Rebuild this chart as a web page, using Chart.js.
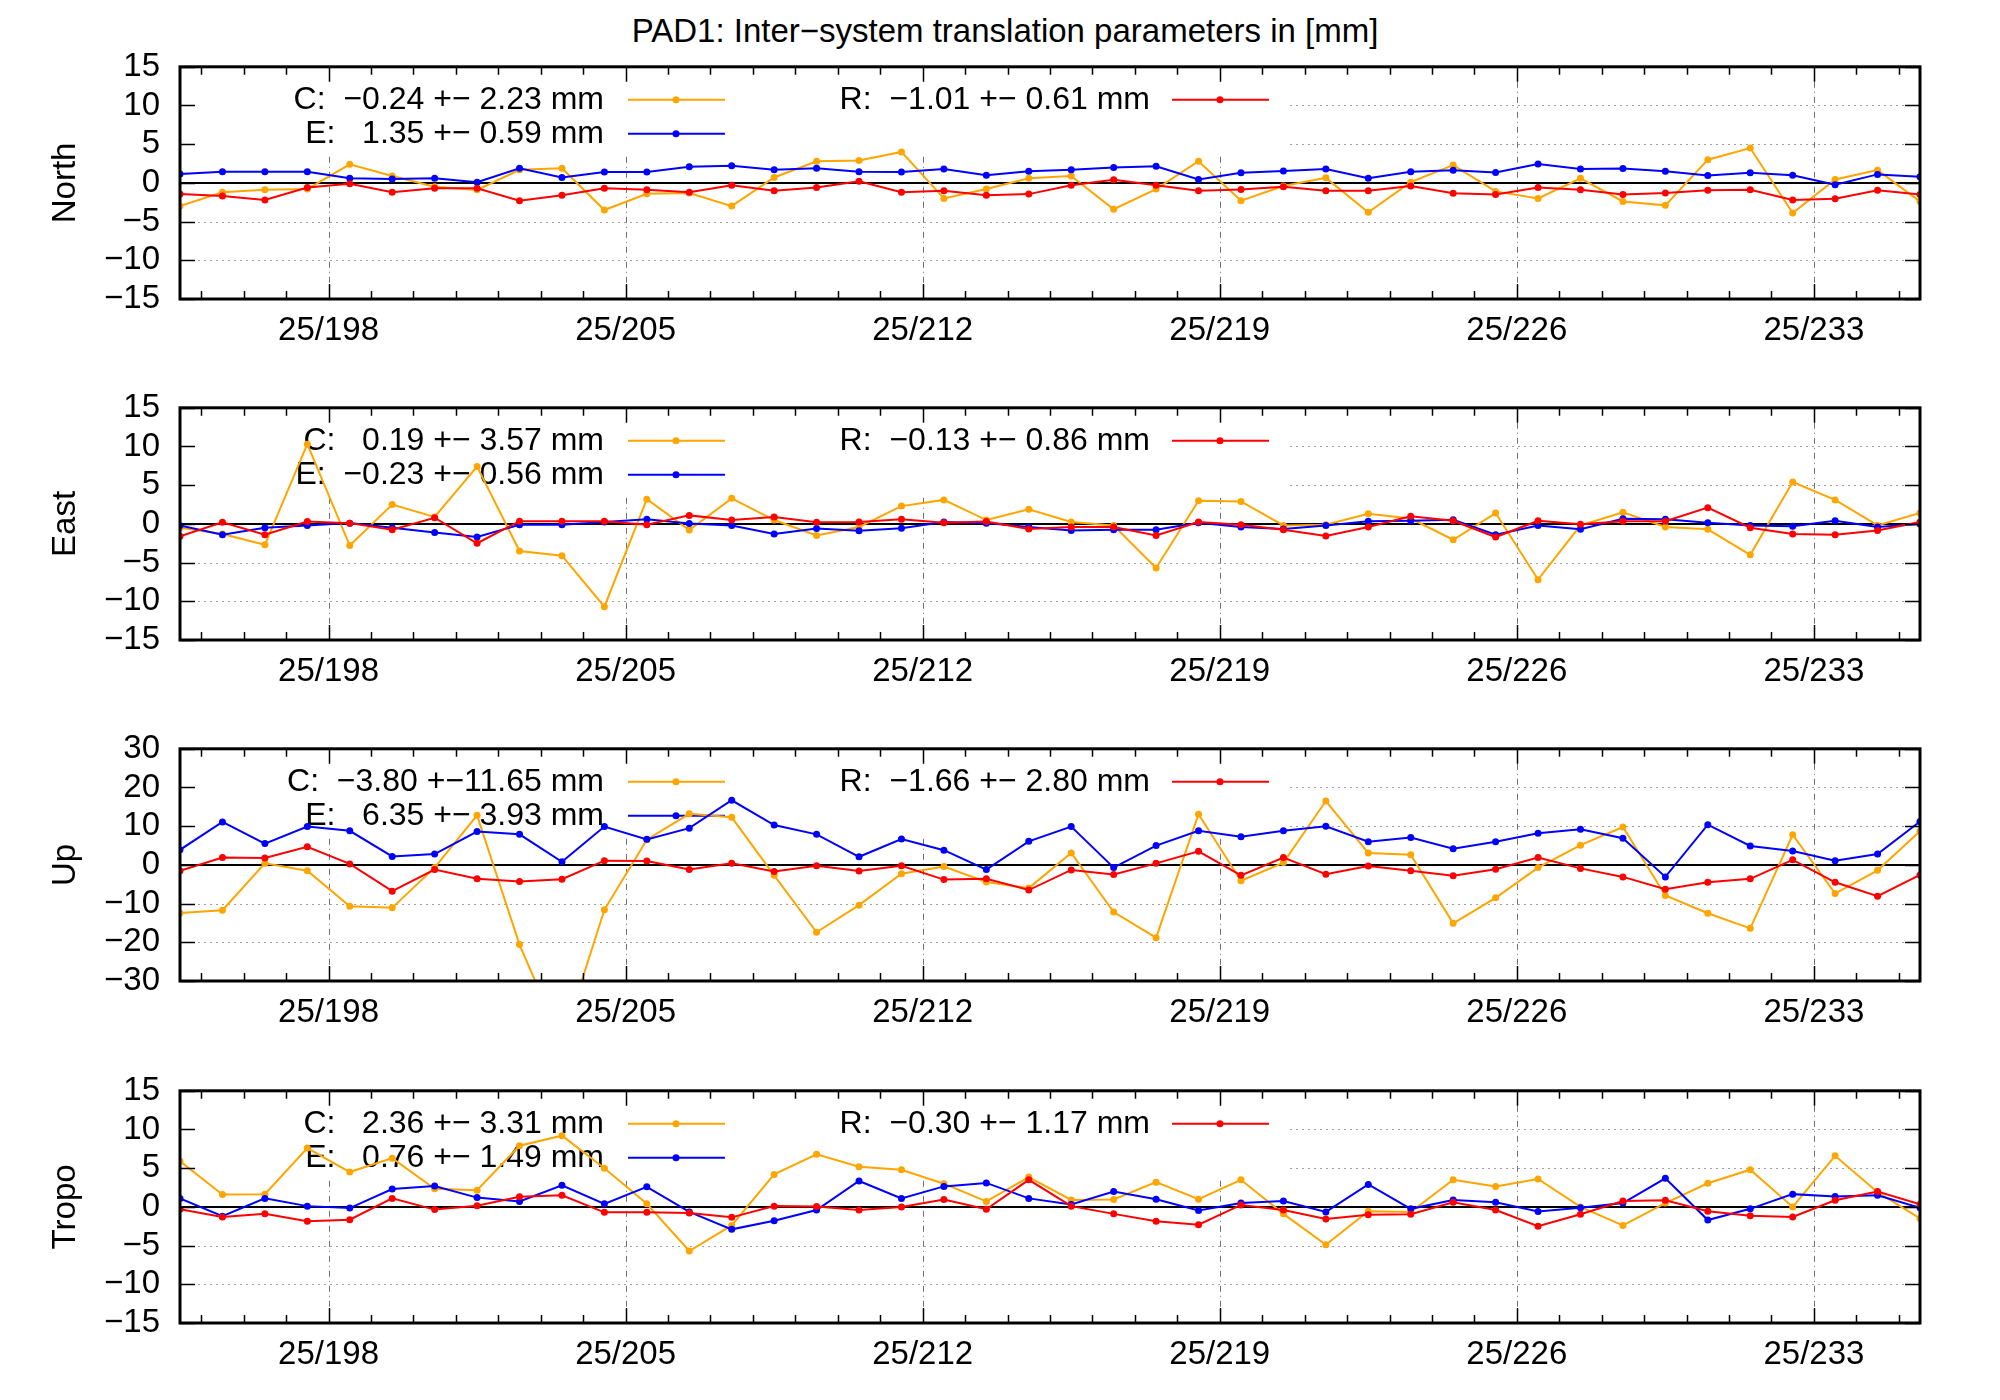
<!DOCTYPE html>
<html><head><meta charset="utf-8">
<script src="https://cdn.jsdelivr.net/npm/chart.js@4"></script>
<style>
body{margin:0;background:#fff;width:2000px;height:1400px;position:relative;overflow:hidden;font-family:"Liberation Sans",Arial,sans-serif}
canvas{position:absolute;left:0}
#title{position:absolute;top:12px;left:0;width:2010px;text-align:center;font-size:33px;}
</style></head><body>
<div id="title">PAD1: Inter−system translation parameters in [mm]</div>
<canvas id="c0"></canvas><canvas id="c1"></canvas><canvas id="c2"></canvas><canvas id="c3"></canvas>
<script>
const days = [];
for (let d = 194.5; d <= 235.5; d += 1) days.push(d);
const xTicks = [198, 205, 212, 219, 226, 233];
const panelNames = ["North", "East", "Up", "Tropo"];

const northC = [-3.0,-1.2,-0.9,-0.8,2.4,0.9,-0.5,-0.9,1.7,1.9,-3.5,-1.4,-1.3,-3.0,0.7,2.8,2.9,4.0,-2.0,-0.8,0.6,0.9,-3.4,-0.8,2.8,-2.3,-0.4,0.65,-3.8,0.1,2.3,-1.1,-2.0,0.6,-2.4,-2.9,3.0,4.5,-3.9,0.45,1.65,-2.4];
const northE = [1.16,1.45,1.45,1.45,0.6,0.5,0.6,0.1,1.9,0.7,1.4,1.4,2.1,2.2,1.7,1.9,1.45,1.4,1.8,1.0,1.5,1.7,2.0,2.15,0.45,1.3,1.55,1.8,0.6,1.45,1.65,1.35,2.45,1.8,1.85,1.5,0.95,1.3,1.0,-0.25,1.1,0.8];
const northR = [-1.45,-1.7,-2.2,-0.6,-0.1,-1.2,-0.7,-0.7,-2.3,-1.6,-0.7,-0.9,-1.2,-0.3,-1.0,-0.6,0.2,-1.2,-1.0,-1.6,-1.45,-0.3,0.4,-0.3,-1.0,-0.85,-0.5,-1.0,-1.0,-0.4,-1.35,-1.5,-0.6,-0.9,-1.5,-1.3,-0.95,-0.9,-2.2,-2.05,-0.95,-1.5];

const eastC = [-0.5,-1.3,-2.7,10.3,-2.8,2.5,0.9,7.4,-3.5,-4.1,-10.7,3.2,-0.8,3.3,0.5,-1.5,-0.4,2.3,3.1,0.5,1.9,0.25,-0.2,-5.7,3.0,2.9,-0.2,-0.1,1.3,0.7,-2.05,1.4,-7.2,-0.2,1.5,-0.4,-0.7,-4.0,5.4,3.1,-0.2,1.4];
const eastE = [-0.2,-1.4,-0.5,-0.2,0.1,-0.5,-1.1,-1.7,-0.1,-0.1,0.25,0.6,0.05,-0.2,-1.3,-0.6,-0.9,-0.55,0.25,0.1,-0.4,-0.85,-0.75,-0.75,0.15,-0.4,-0.65,-0.2,0.35,0.4,0.55,-1.4,-0.2,-0.7,0.65,0.6,0.15,-0.2,-0.3,0.4,-0.4,0.0];
const eastR = [-1.6,0.2,-1.4,0.3,0.1,-0.75,0.8,-2.5,0.35,0.35,0.35,-0.1,1.1,0.5,0.9,0.2,0.25,0.6,0.15,0.3,-0.65,-0.4,-0.4,-1.5,0.25,-0.1,-0.75,-1.55,-0.4,1.0,0.4,-1.7,0.4,-0.05,0.35,0.35,2.1,-0.5,-1.3,-1.4,-0.85,0.25];

const upC = [-12.4,-11.7,0.4,-1.5,-10.7,-11.1,-0.7,12.8,-20.6,-46.0,-11.6,6.5,13.2,12.3,-2.7,-17.4,-10.4,-2.3,-0.4,-4.4,-6.0,3.1,-12.2,-18.8,13.1,-4.1,0.6,16.5,3.1,2.6,-15.1,-8.5,-0.7,5.1,9.8,-7.9,-12.5,-16.4,7.8,-7.4,-1.4,8.7];
const upE = [3.9,11.1,5.5,9.9,8.8,2.2,2.8,8.6,7.9,0.8,9.9,6.6,9.5,16.7,10.3,7.9,2.1,6.7,3.8,-1.2,6.1,9.9,-0.7,5.0,8.8,7.3,8.8,10.0,6.0,7.1,4.2,6.0,8.2,9.2,6.9,-3.1,10.4,4.9,3.6,1.1,2.8,11.2];
const upR = [-1.5,1.9,1.8,4.7,0.25,-6.8,-1.2,-3.6,-4.3,-3.7,1.1,1.0,-1.2,0.4,-1.7,-0.2,-1.6,-0.25,-3.8,-3.6,-6.5,-1.3,-2.5,0.4,3.5,-2.7,1.9,-2.4,-0.3,-1.5,-2.8,-1.1,1.9,-0.9,-3.1,-6.3,-4.5,-3.6,1.3,-4.5,-8.1,-2.6];

const tropoC = [5.9,1.6,1.65,7.6,4.5,6.3,2.35,2.15,7.9,9.2,5.0,0.4,-5.7,-2.4,4.2,6.8,5.2,4.8,3.0,0.7,3.85,0.9,0.95,3.2,1.0,3.5,-0.9,-4.9,-0.55,-0.65,3.5,2.65,3.6,0.0,-2.4,0.5,3.05,4.8,0.0,6.6,1.9,-1.5];
const tropoE = [1.1,-1.2,1.1,0.1,-0.15,2.3,2.7,1.2,0.7,2.8,0.4,2.6,-0.65,-2.9,-1.8,-0.4,3.35,1.1,2.65,3.1,1.1,0.3,2.0,1.0,-0.45,0.5,0.75,-0.65,2.9,-0.25,0.9,0.6,-0.6,-0.1,0.5,3.7,-1.7,-0.25,1.65,1.35,1.5,-0.1];
const tropoR = [-0.3,-1.3,-0.9,-1.85,-1.65,1.1,-0.35,0.15,1.3,1.5,-0.7,-0.7,-0.8,-1.35,0.1,0.05,-0.4,0.0,0.95,-0.3,3.5,0.1,-0.9,-1.85,-2.3,0.25,-0.4,-1.55,-1.0,-0.95,0.6,-0.4,-2.5,-0.95,0.75,0.85,-0.55,-1.15,-1.3,0.85,2.0,0.35];

const legendC = ["C:  −0.24 +− 2.23 mm","C:   0.19 +− 3.57 mm","C:  −3.80 +−11.65 mm","C:   2.36 +− 3.31 mm"];
const legendE = ["E:   1.35 +− 0.59 mm","E:  −0.23 +− 0.56 mm","E:   6.35 +− 3.93 mm","E:   0.76 +− 1.49 mm"];
const legendR = ["R:  −1.01 +− 0.61 mm","R:  −0.13 +− 0.86 mm","R:  −1.66 +− 2.80 mm","R:  −0.30 +− 1.17 mm"];
const yRanges = [[-15,15,5],[-15,15,5],[-30,30,10],[-15,15,5]];
const series = [[northC,northE,northR],[eastC,eastE,eastR],[upC,upE,upR],[tropoC,tropoE,tropoR]];
const panelTops = [67, 408, 749, 1091];

const ORANGE = "#ffa500", BLUE = "#0000ff", RED = "#ff0000";
const FONT = '"Liberation Sans", Arial, sans-serif';
const minus = s => String(s).replace(/-/g, "−");

function mk(vals, color) {
  return { data: vals.map((v, i) => ({ x: days[i], y: v })), borderColor: color, backgroundColor: color,
    borderWidth: 2, pointRadius: 3.5, pointHoverRadius: 3.5, pointBorderWidth: 0, tension: 0 };
}

const PLOT_H = 242, XAX_H = 62;

for (let p = 0; p < 4; p++) {
  const cv = document.getElementById("c" + p);
  cv.width = 2000; cv.height = 30 + PLOT_H + XAX_H;
  const [ymin, ymax, ystep] = yRanges[p];

  const deco = {
    id: "deco" + p,
    beforeDatasetsDraw(chart) {
      const ctx = chart.ctx, a = chart.chartArea, xs = chart.scales.x, ys = chart.scales.y;
      ctx.save();
      ctx.strokeStyle = "#a0a0a0"; ctx.lineWidth = 1.2; ctx.setLineDash([2, 4]);
      for (let v = ymin + ystep; v < ymax; v += ystep) {
        if (v === 0) continue;
        const y = Math.round(ys.getPixelForValue(v)) + 0.5;
        ctx.beginPath(); ctx.moveTo(a.left, y); ctx.lineTo(a.right, y); ctx.stroke();
      }
      ctx.strokeStyle = "#707070"; ctx.setLineDash([6, 4, 1, 4]); ctx.lineWidth = 1;
      for (const t of xTicks) {
        const x = Math.round(xs.getPixelForValue(t)) + 0.5;
        ctx.beginPath(); ctx.moveTo(x, a.top); ctx.lineTo(x, a.bottom); ctx.stroke();
      }
      ctx.setLineDash([]);
      ctx.fillStyle = "#fff";
      ctx.fillRect(a.left + 3, a.top + 3, 1290 - a.left - 3, 84);
      ctx.strokeStyle = "#000"; ctx.lineWidth = 2;
      const y0 = ys.getPixelForValue(0);
      ctx.beginPath(); ctx.moveTo(a.left, y0); ctx.lineTo(a.right, y0); ctx.stroke();
      ctx.font = "32px " + FONT; ctx.textBaseline = "middle"; ctx.textAlign = "right";
      const rows = [[legendC[p], ORANGE, 604, 628, a.top + 33], [legendE[p], BLUE, 604, 628, a.top + 67], [legendR[p], RED, 1150, 1172, a.top + 33]];
      for (const [txt, col, tx, lx, ty] of rows) {
        ctx.fillStyle = "#000"; ctx.fillText(txt, tx, ty);
        ctx.strokeStyle = col; ctx.lineWidth = 2;
        ctx.beginPath(); ctx.moveTo(lx, ty); ctx.lineTo(lx + 97, ty); ctx.stroke();
        ctx.fillStyle = col; ctx.beginPath(); ctx.arc(lx + 48, ty, 3.5, 0, Math.PI * 2); ctx.fill();
      }
      ctx.restore();
    },
    afterDraw(chart) {
      const ctx = chart.ctx, a = chart.chartArea, xs = chart.scales.x, ys = chart.scales.y;
      ctx.save();
      ctx.strokeStyle = "#000"; ctx.lineWidth = 1.5;
      for (let d = 195; d <= 235; d++) {
        const x = Math.round(xs.getPixelForValue(d)) + 0.5;
        const L = xTicks.includes(d) ? 15 : 8;
        ctx.beginPath(); ctx.moveTo(x, a.bottom); ctx.lineTo(x, a.bottom - L);
        ctx.moveTo(x, a.top); ctx.lineTo(x, a.top + L); ctx.stroke();
      }
      for (let v = ymin; v <= ymax; v += ystep) {
        const y = Math.round(ys.getPixelForValue(v)) + 0.5;
        ctx.beginPath(); ctx.moveTo(a.left, y); ctx.lineTo(a.left + 15, y);
        ctx.moveTo(a.right, y); ctx.lineTo(a.right - 15, y); ctx.stroke();
      }
      ctx.lineWidth = 3;
      ctx.strokeRect(a.left, a.top, a.right - a.left, a.bottom - a.top);
      ctx.translate(66, (a.top + a.bottom) / 2); ctx.rotate(-Math.PI / 2);
      ctx.fillStyle = "#000"; ctx.font = "33px " + FONT; ctx.textAlign = "center"; ctx.textBaseline = "middle";
      ctx.fillText(panelNames[p], 0, 0);
      ctx.restore();
    }
  };

  const chart = new Chart(cv, {
    type: "line",
    data: { datasets: [mk(series[p][2], RED), mk(series[p][1], BLUE), mk(series[p][0], ORANGE)] },
    options: {
      responsive: false, animation: false, devicePixelRatio: 1,
      layout: { padding: { top: 0, right: 80, left: 0, bottom: 0 } },
      plugins: { legend: { display: false }, tooltip: { enabled: false }, title: { display: false } },
      scales: {
        x: { type: "linear", min: days[0], max: days[days.length - 1],
          afterBuildTicks: s => { s.ticks = xTicks.map(v => ({ value: v })); },
          afterFit: s => { s.height = XAX_H; },
          grid: { display: false, drawTicks: false }, border: { display: false },
          ticks: { padding: 12, color: "#000", font: { size: 33, family: FONT }, maxRotation: 0, autoSkip: false,
            callback: v => "25/" + v } },
        y: { min: ymin, max: ymax,
          afterBuildTicks: s => { const t = []; for (let v = ymin; v <= ymax; v += ystep) t.push({ value: v }); s.ticks = t; },
          afterFit: s => { s.width = 180; },
          grid: { display: false, drawTicks: false }, border: { display: false },
          ticks: { padding: 20, autoSkip: false, color: "#000", font: { size: 33, family: FONT }, callback: v => minus(v) } }
      }
    },
    plugins: [deco]
  });
  let a = chart.chartArea;
  const extra = PLOT_H - (a.bottom - a.top);
  if (extra !== 0) { chart.resize(2000, cv.height + extra); a = chart.chartArea; }
  cv.style.top = (panelTops[p] - a.top) + "px";
}
</script></body></html>
